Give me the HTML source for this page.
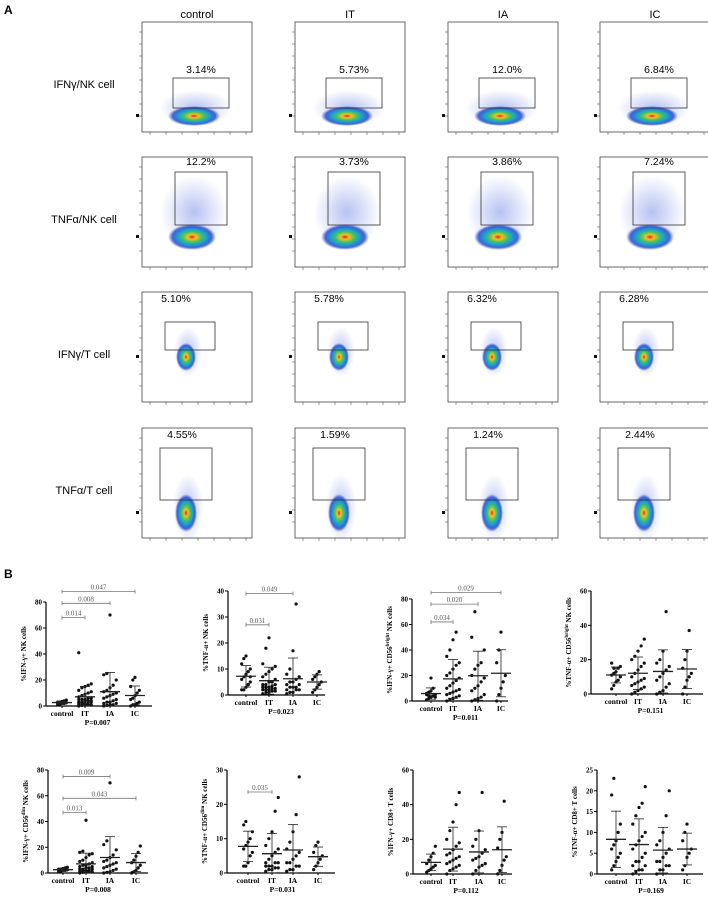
<!DOCTYPE html>
<html><head><meta charset="utf-8">
<style>
html,body{margin:0;padding:0;background:#fff;}
svg{display:block;font-family:"Liberation Sans",sans-serif;}
.ser{font-family:"Liberation Serif",serif;}
</style></head>
<body>
<svg id="fig" width="708" height="898" viewBox="0 0 708 898" xmlns="http://www.w3.org/2000/svg">
<defs>
<radialGradient id="cloud" cx="50%" cy="50%" r="50%">
<stop offset="0%" stop-color="#e8202a"/>
<stop offset="18%" stop-color="#f2c21c"/>
<stop offset="40%" stop-color="#3fc26a"/>
<stop offset="62%" stop-color="#1d9ad6"/>
<stop offset="82%" stop-color="#1a3fc8" stop-opacity="0.8"/>
<stop offset="100%" stop-color="#2040d0" stop-opacity="0"/>
</radialGradient>
<radialGradient id="haze" cx="50%" cy="50%" r="50%">
<stop offset="0%" stop-color="#3050d8" stop-opacity="0.35"/>
<stop offset="100%" stop-color="#3050d8" stop-opacity="0"/>
</radialGradient>
</defs>
<text x="4" y="14" font-size="12" font-weight="bold">A</text>
<text x="4" y="578" font-size="12" font-weight="bold">B</text>
<g id="flow"></g>
<g id="charts"></g>
</svg>
<script>
const NS="http://www.w3.org/2000/svg";
function mk(tag,attrs,parent,text){const e=document.createElementNS(NS,tag);for(const k in attrs)e.setAttribute(k,attrs[k]);if(text!==undefined)e.textContent=text;parent.appendChild(e);return e;}

/* ---------- Panel A: flow plots ---------- */
const colNames=["control","IT","IA","IC"];
const rowNames=["IFNγ/NK cell","TNFα/NK cell","IFNγ/T cell","TNFα/T cell"];
const gatePct=[["3.14%","5.73%","12.0%","6.84%"],["12.2%","3.73%","3.86%","7.24%"],["5.10%","5.78%","6.32%","6.28%"],["4.55%","1.59%","1.24%","2.44%"]];
const colX=[142,295,448,600];
const rowY=[22,157,292,428];
const flow=document.getElementById('flow');
colNames.forEach((c,i)=>{const t=mk('text',{x:colX[i]+55,y:18,'font-size':11,'text-anchor':'middle'},flow,c);
});
rowNames.forEach((r,j)=>{const t=mk('text',{x:84,y:rowY[j]+66,'font-size':11,'text-anchor':'middle'},flow,r);
});
const gates=[{x:31,y:56,w:56,h:30,ly:-5,lx:59,cx:52,cy:94,rx:26,ry:10},
{x:33,y:15,w:52,h:53,ly:-7,lx:59,cx:50,cy:80,rx:24,ry:13},
{x:23,y:30,w:50,h:28,ly:-20,lx:34,cx:44,cy:65,rx:10,ry:14},
{x:18,y:20,w:52,h:52,ly:-10,lx:40,cx:44,cy:85,rx:11,ry:19}];
for(let j=0;j<4;j++)for(let i=0;i<4;i++){
 const g=mk('g',{transform:`translate(${colX[i]},${rowY[j]})`},flow);
 
 mk('rect',{x:0,y:0,width:110,height:110,fill:'none',stroke:'#444','stroke-width':0.8},g);
 for(let k=0;k<8;k++){mk('line',{x1:-3,x2:0,y1:10+k*12,y2:10+k*12,stroke:'#555','stroke-width':0.6},g);}
 for(let k=0;k<7;k++){mk('line',{x1:8+k*16,x2:8+k*16,y1:110,y2:113,stroke:'#555','stroke-width':0.6},g);}
 mk('rect',{x:-6,y:gates[j].cy-2,width:3,height:3,fill:'#111'},g);
 const q=gates[j];
 mk('ellipse',{cx:q.cx+2,cy:q.cy-(j==1?25:(j>=2?5:8)),rx:q.rx*1.4,ry:q.ry*(j==1?2.8:1.8),fill:'url(#haze)'},g);
 mk('ellipse',{cx:q.cx,cy:q.cy,rx:q.rx,ry:q.ry,fill:'url(#cloud)'},g);
 const gr=mk('rect',{x:q.x,y:q.y,width:q.w,height:q.h,fill:'none',stroke:'#333','stroke-width':0.8},g);
 
 mk('text',{x:q.lx,y:q.y+q.ly,'font-size':10.5,'text-anchor':'middle'},g,gatePct[j][i]);
}

/* ---------- Panel B: scatter charts ---------- */
const cats=["control","IT","IA","IC"];
const c1_ctrl=[1,1.5,2,2,2.5,3,3,3.5,4,4.5,2.2,1.8,3.2,2.6];
const c1_it=[0,0.5,1,1,1,1.5,2,2,2,3,3,3,4,4,4,5,5,5,6,6,7,8,9,10,11,12,14,15,16,17,41];
const c1_ia=[0,0.5,1,1,2,2,3,3,4,5,6,7,8,9,10,11,12,14,16,20,24,25,70];
const c1_ic=[0,1,1,2,3,5,6,8,10,12,15,20,22];
const c2_ctrl=[2,2,3,4,5,6,7,8,9,10,12,14,15,4,7];
const c2_it=[0.5,1,1,1.5,1.5,2,2,2,2.5,2.5,3,3,3,3.5,4,4,4,5,5,6,7,8,9,10,11,12,18,22];
const c2_ia=[0.5,1,1,2,2,2,3,3,3,4,4,5,5,6,7,8,10,17,35];
const c2_ic=[1,2,3,4,5,6,7,8,9];
const c3_ctrl=[1,2,3,4,5,6,7,8,10,3,5,4,18];
const c3_it=[0,1,2,3,4,5,6,7,8,9,10,12,14,16,18,20,22,25,28,30,35,40,48,54];
const c3_ia=[0,1,2,3,5,8,10,12,15,18,20,25,28,30,40,50,70];
const c3_ic=[0,5,10,15,20,30,40,54];
const c4_ctrl=[3,5,7,8,10,11,12,13,15,16,18,15];
const c4_it=[0,1,2,3,4,5,6,7,8,9,10,12,14,16,18,20,22,25,28,32];
const c4_ia=[0,1,2,4,6,8,10,12,14,16,18,20,25,48];
const c4_ic=[0,4,8,10,12,15,20,25,37];
const c5_ctrl=[1,1.5,2,2,2.5,3,3,3.5,4,4.5,2.2,1.8];
const c5_it=[0,0.5,1,1,1,1.5,2,2,2,3,3,3,4,4,5,5,6,6,7,8,9,10,12,14,15,16,17,41];
const c5_ia=[0,0.5,1,2,3,4,5,6,7,8,9,10,12,14,18,22,25,70];
const c5_ic=[0,1,2,4,6,8,10,13,16,21];
const c6_ctrl=[2,2,3,5,6,7,8,9,10,12,14,15];
const c6_it=[0.5,1,1,1.5,1.5,2,2,2,3,3,3,4,5,6,7,8,10,12,18,22];
const c6_ia=[0.5,1,1,2,2,3,3,4,5,6,7,9,12,17,28];
const c6_ic=[1,2,3,4,5,6,8,9];
const c7_ctrl=[1,2,3,4,5,6,8,10,12,16];
const c7_it=[0,2,3,4,5,6,7,8,9,10,11,12,14,16,18,20,25,30,40,47];
const c7_ia=[0,2,4,5,6,8,9,10,12,14,16,20,25,47];
const c7_ic=[0,2,5,8,10,15,20,24,42];
const c8_ctrl=[1,2,3,4,5,6,7,8,10,12,19,23];
const c8_it=[0,0.5,1,1,2,2,3,3,4,5,6,7,8,9,10,12,14,16,17,21];
const c8_ia=[0,1,1,2,2,3,3,4,5,6,7,8,10,14,20];
const c8_ic=[1,2,4,5,6,8,10,12];
const ticks80=[0,20,40,60,80],ticks40=[0,10,20,30,40],ticks60=[0,20,40,60],ticks30=[0,10,20,30],ticks25=[0,5,10,15,20,25];
const pvals=["P=0.007","P=0.023","P=0.011","P=0.151","P=0.008","P=0.031","P=0.112","P=0.169"];
const brackets=[
 [[0,1,68,"0.014"],[0,2,79,"0.008"],[0,3,88,"0.047"]],
 [[0,1,27,"0.031"],[0,2,39,"0.049"]],
 [[0,1,62,"0.034"],[0,2,76,"0.020"],[0,3,85,"0.029"]],
 [],
 [[0,2,75,"0.009"],[0,3,58,"0.043"],[0,1,47,"0.013"]],
 [[0,1,23.6,"0.035"]],[],[]];
const ylabels=[
 ["%IFN-γ+ NK cells",""],["%TNF-α+ NK cells",""],["%IFN-γ+ CD56","bright"," NK cells"],["%TNF-α+ CD56","bright"," NK cells"],
 ["%IFN-γ+ CD56","dim"," NK cells"],["%TNF-α+ CD56","dim"," NK cells"],["%IFN-γ+ CD8+ T cells",""],["%TNF-α+ CD8+ T cells",""]];
const layout=[
 {ax:46,right:152,top:602,bot:706,cx:[62,85,110,135]},
 {ax:228,right:325,top:591,bot:695,cx:[246,269,293,317]},
 {ax:412,right:508,top:599,bot:701,cx:[431,453,478,501]},
 {ax:591,right:703,top:591,bot:694,cx:[616,638,663,687]},
 {ax:48,right:148,top:770,bot:873,cx:[63,86,110,136]},
 {ax:227,right:335,top:770,bot:873,cx:[248,272,293,318]},
 {ax:413,right:512,top:770,bot:874,cx:[431,453,479,502]},
 {ax:597,right:703,top:770,bot:874,cx:[616,639,663,687]}];
const charts=[
 {data:[c1_ctrl,c1_it,c1_ia,c1_ic],ticks:ticks80},
 {data:[c2_ctrl,c2_it,c2_ia,c2_ic],ticks:ticks40},
 {data:[c3_ctrl,c3_it,c3_ia,c3_ic],ticks:ticks80},
 {data:[c4_ctrl,c4_it,c4_ia,c4_ic],ticks:ticks60},
 {data:[c5_ctrl,c5_it,c5_ia,c5_ic],ticks:ticks80},
 {data:[c6_ctrl,c6_it,c6_ia,c6_ic],ticks:ticks30},
 {data:[c7_ctrl,c7_it,c7_ia,c7_ic],ticks:ticks60},
 {data:[c8_ctrl,c8_it,c8_ia,c8_ic],ticks:ticks25}];
const root=document.getElementById('charts');
charts.forEach((ch,ci)=>{
 const L=layout[ci];const ymax=ch.ticks[ch.ticks.length-1];
 const y=v=>L.bot-(v/ymax)*(L.bot-L.top);
 const g=mk('g',{class:'ser'},root);
 
 const ya=mk('line',{x1:L.ax,x2:L.ax,y1:L.top,y2:L.bot,stroke:'#000','stroke-width':1.2},g);
 
 const xa=mk('line',{x1:L.ax,x2:L.right,y1:L.bot,y2:L.bot,stroke:'#000','stroke-width':1.2},g);
 
 ch.ticks.forEach(t=>{mk('line',{x1:L.ax-3,x2:L.ax,y1:y(t),y2:y(t),stroke:'#000','stroke-width':1},g);
  const tl=mk('text',{x:L.ax-4,y:y(t)+2.5,'font-size':7,'font-weight':'bold','text-anchor':'end'},g,t);
  });
 cats.forEach((c,k)=>{const tl=mk('text',{x:L.cx[k],y:L.bot+10,'font-size':7.5,'font-weight':'bold','text-anchor':'middle'},g,c);
  
  mk('line',{x1:L.cx[k],x2:L.cx[k],y1:L.bot,y2:L.bot+2,stroke:'#000'},g);});
 const pt=mk('text',{x:(L.cx[1]+L.cx[2])/2,y:L.bot+19,'font-size':7.5,'font-weight':'bold','text-anchor':'middle'},g,pvals[ci]);
 
 const yl=ylabels[ci];const yt=mk('text',{transform:`translate(${L.ax-20},${(L.top+L.bot)/2}) rotate(-90)`,'font-size':7,'font-weight':'bold','text-anchor':'middle'},g);
 
 mk('tspan',{},yt,yl[0]);if(yl[1]){mk('tspan',{dy:-3,'font-size':5},yt,yl[1]);mk('tspan',{dy:3},yt,yl[2]);}
 ch.data.forEach((arr,k)=>{
  const cx=L.cx[k];const n=arr.length;
  arr.forEach((v,i)=>{const off=((i%5)-2)*2.4*(k==0||k==3?0.9:1.3);
   const p=mk('circle',{cx:cx+off,cy:y(v),r:1.6,fill:'#111'},g);
   });
  const m=arr.reduce((a,b)=>a+b,0)/n;const sd=Math.sqrt(arr.reduce((a,b)=>a+(b-m)*(b-m),0)/(n-1));
  const ml=mk('line',{x1:cx-10,x2:cx+10,y1:y(m),y2:y(m),stroke:'#222','stroke-width':1.3},g);
  
  const lo=Math.max(0,m-sd),hi=m+sd;
  mk('line',{x1:cx,x2:cx,y1:y(lo),y2:y(hi),stroke:'#222','stroke-width':0.8},g);
  mk('line',{x1:cx-5,x2:cx+5,y1:y(hi),y2:y(hi),stroke:'#222','stroke-width':0.8},g);
  mk('line',{x1:cx-5,x2:cx+5,y1:y(lo),y2:y(lo),stroke:'#222','stroke-width':0.8},g);
 });
 brackets[ci].forEach(b=>{const x1=L.cx[b[0]],x2=L.cx[b[1]],yy=y(b[2]);
  const bg=mk('g',{},g);
  mk('line',{x1:x1,x2:x2,y1:yy,y2:yy,stroke:'#777','stroke-width':0.8},bg);
  mk('line',{x1:x1,x2:x1,y1:yy-2,y2:yy+2,stroke:'#777','stroke-width':0.8},bg);
  mk('line',{x1:x2,x2:x2,y1:yy-2,y2:yy+2,stroke:'#777','stroke-width':0.8},bg);
  mk('text',{x:(x1+x2)/2,y:yy-2,'font-size':7,fill:'#555','text-anchor':'middle'},bg,b[3]);});
});
</script>
</body></html>
